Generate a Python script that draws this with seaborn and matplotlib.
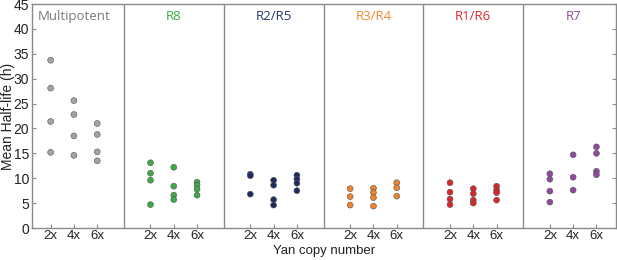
import matplotlib
matplotlib.use("Agg")
import matplotlib.pyplot as plt
import seaborn as sns
import pandas as pd

# ---- data ----
groups = ["Multipotent", "R8", "R2/R5", "R3/R4", "R1/R6", "R7"]
copy_labels = ["2x", "4x", "6x"]
colors = ["#a3a3a3", "#3fa84a", "#1e2b5e", "#f0842a", "#da252c", "#8d4a9e"]
title_colors = ["#7a7a7a", "#3aaa47", "#2b3670", "#f28a30", "#e0282f", "#8c4a9c"]

multipotent_2x = [33.7, 28.1, 21.4, 15.2]
multipotent_4x = [25.6, 22.8, 18.5, 14.6]
multipotent_6x = [21.0, 18.8, 15.3, 13.5]
r8_2x = [13.1, 11.0, 9.6, 4.7]
r8_4x = [12.2, 8.4, 6.6, 5.7]
r8_6x = [9.2, 8.6, 7.8, 6.6]
r2r5_2x = [10.8, 10.5, 6.8]
r2r5_4x = [9.6, 8.6, 5.7, 4.6]
r2r5_6x = [10.6, 9.8, 9.0, 7.5]
r3r4_2x = [7.9, 6.3, 4.6]
r3r4_4x = [8.0, 7.1, 6.1, 4.4]
r3r4_6x = [9.1, 8.1, 6.4]
r1r6_2x = [9.1, 7.2, 5.8, 4.7]
r1r6_4x = [7.9, 6.9, 5.6, 5.0]
r1r6_6x = [8.4, 7.6, 7.1, 5.6]
r7_2x = [10.9, 9.8, 7.4, 5.2]
r7_4x = [14.7, 10.2, 7.6]
r7_6x = [16.3, 15.0, 11.4, 10.7]

values = [
    [multipotent_2x, multipotent_4x, multipotent_6x],
    [r8_2x, r8_4x, r8_6x],
    [r2r5_2x, r2r5_4x, r2r5_6x],
    [r3r4_2x, r3r4_4x, r3r4_6x],
    [r1r6_2x, r1r6_4x, r1r6_6x],
    [r7_2x, r7_4x, r7_6x],
]

group_step = 4.286
rows = []
for gi, g in enumerate(groups):
    for ci, c in enumerate(copy_labels):
        for v in values[gi][ci]:
            rows.append({"group": g, "copy": c, "x": gi * group_step + (ci - 1), "y": v})
df = pd.DataFrame(rows)

sns.set_theme(style="white")
plt.rcParams["font.family"] = ["Liberation Sans", "DejaVu Sans"]

fig = plt.figure(figsize=(6.17, 2.60), dpi=100)
ax = fig.add_axes([32 / 617, 32 / 260, 584 / 617, 224 / 260])

sns.scatterplot(data=df, x="x", y="y", hue="group", palette=dict(zip(groups, colors)),
                s=18, linewidth=0.4, edgecolor="#555555", legend=False, ax=ax, zorder=3)

spine_c = "#8a8a8a"
ax.set_xlim(-1.8, 5 * group_step + 1.84)
ax.set_ylim(0, 45)
for sp in ax.spines.values():
    sp.set_color(spine_c)
    sp.set_linewidth(1.0)

for gi in range(1, len(groups)):
    ax.axvline(gi * group_step - group_step / 2, color=spine_c, lw=1.0, zorder=1)

xt = [gi * group_step + (ci - 1) for gi in range(len(groups)) for ci in range(3)]
ax.set_xticks(xt)
ax.set_xticklabels(copy_labels * len(groups), fontsize=9.5, color="#222222")
ax.set_yticks(range(0, 46, 5))
ax.set_yticklabels([str(v) for v in range(0, 46, 5)], fontsize=10, color="#222222")
ax.tick_params(axis="both", direction="in", length=3, width=0.8, color=spine_c, pad=2)
ax.tick_params(axis="y", right=True, left=True)
ax.tick_params(axis="x", bottom=True, pad=1.5)

ax.set_xlabel("Yan copy number", fontsize=9.5, color="#222222")
ax.set_ylabel("Mean Half-life (h)", fontsize=10, color="#222222")
ax.xaxis.set_label_coords(0.5, -0.078)
ax.yaxis.set_label_coords(-0.029, 0.5)

for gi, g in enumerate(groups):
    ax.text(gi * group_step, 42.4, g, ha="center", va="center", fontsize=9.5,
            color=title_colors[gi], family=["Open Sans", "DejaVu Sans"])

fig.savefig("out.png", dpi=100)
